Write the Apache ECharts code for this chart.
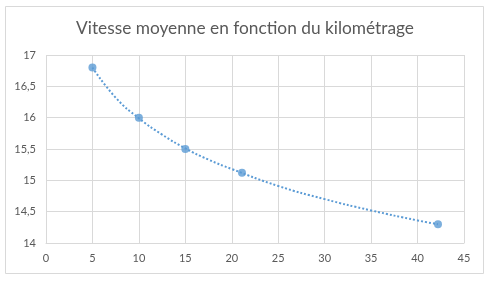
<!DOCTYPE html>
<html><head><meta charset="utf-8">
<script src="https://cdn.jsdelivr.net/npm/echarts@6/dist/echarts.min.js"></script>
<style>html,body{margin:0;padding:0;background:#fff}#c{width:490px;height:283px}</style>
</head><body><div id="c"></div>
<script>
var title = "Vitesse moyenne en fonction du kilométrage";
var distances = [5, 10, 15, 21.1, 42.2];
var speeds = [16.8, 16.0, 15.5, 15.12, 14.3];
// dotted trendline
var trendX = [5, 7.5, 10, 12.5, 15, 17.5, 20, 25, 30, 35, 40, 42.2];
var trendY = [16.8, 16.32, 15.99, 15.73, 15.51, 15.33, 15.18, 14.91, 14.70, 14.52, 14.36, 14.3];

var chart = echarts.init(document.getElementById('c'), null, {renderer:'canvas'});
var font = 'Lato, "Open Sans", sans-serif';
chart.setOption({
  backgroundColor: '#fff',
  animation: false,
  title: {text: title, left: 'center', top: 15,
    textStyle: {fontFamily: font, fontSize: 17.3, fontWeight: 'normal', color: '#595959'}},
  graphic: [{type:'rect', shape:{x:5.5, y:6.5, width:478, height:267}, style:{fill:'none', stroke:'#d9d9d9', lineWidth:1}, silent:true}],
  grid: {left: 46, right: 26, top: 55, bottom: 40, containLabel: false},
  xAxis: {type:'value', min:0, max:45, interval:5,
    axisLine:{show:true, lineStyle:{color:'#d9d9d9'}}, axisTick:{show:false},
    splitLine:{show:true, lineStyle:{color:'#d9d9d9'}},
    axisLabel:{color:'#595959', fontFamily:font, fontSize:11, margin:10}},
  yAxis: {type:'value', min:14, max:17, interval:0.5,
    axisLine:{show:false}, axisTick:{show:false},
    splitLine:{show:true, lineStyle:{color:'#d9d9d9'}},
    axisLabel:{color:'#595959', fontFamily:font, fontSize:11, margin:10,
      formatter:function(v){return String(v).replace('.', ',');}}},
  series: [
    {type:'line', data: trendX.map(function(x,i){return [x, trendY[i]];}), smooth:true, symbol:'none',
      lineStyle:{color:'#5b9bd5', width:2, type:[2,2]}, z:2},
    {type:'scatter', data: distances.map(function(x,i){return [x, speeds[i]];}), symbolSize:8,
      itemStyle:{color:'#5b9bd5'}, z:3}
  ]
});
</script></body></html>
